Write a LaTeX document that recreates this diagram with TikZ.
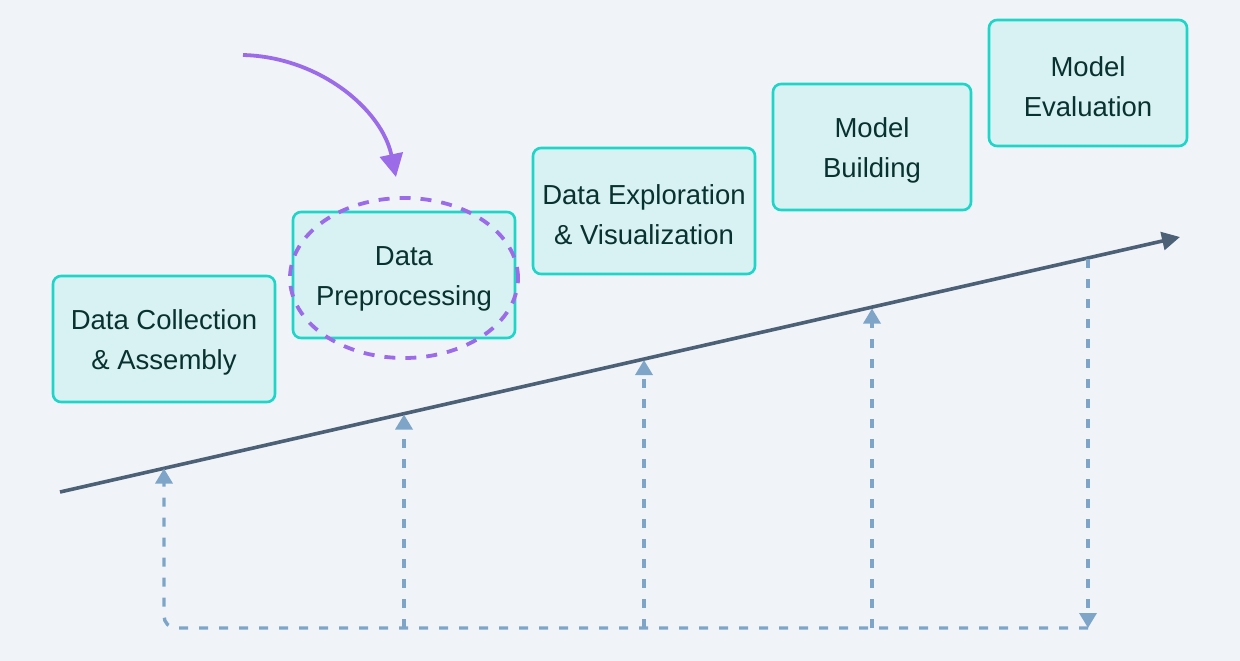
\documentclass[tikz,border=0pt]{standalone}
\usepackage{fontspec}
\setmainfont{Liberation Sans}
\usetikzlibrary{arrows.meta,calc,shapes.geometric}
\definecolor{bg}{HTML}{F0F4F9}
\definecolor{boxfill}{HTML}{D8F1F3}
\definecolor{boxline}{HTML}{1ED6C8}
\definecolor{boxtext}{HTML}{08322F}
\definecolor{trend}{HTML}{4C6175}
\definecolor{dashc}{HTML}{7EA5C8}
\definecolor{purp}{HTML}{9B6BE8}
\tikzset{
  stage/.style={draw=boxline, line width=2.6pt, fill=boxfill, rounded corners=8pt,
    minimum width=222pt, minimum height=126pt, inner sep=0pt},
  stagetext/.style={align=center, text=boxtext, inner sep=0pt,
    font=\fontsize{27.5}{40}\selectfont},
  trendline/.style={draw=trend, line width=3.6pt, -{Triangle[length=18pt,width=18pt]}},
  feed/.style={draw=dashc, line width=3.4pt, dash pattern=on 9pt off 11pt,
    -{Triangle[length=15pt,width=17pt]}},
  focus/.style={draw=purp, line width=3.8pt, dash pattern=on 11pt off 10pt},
  pointer/.style={draw=purp, line width=3.8pt, -{Triangle[length=23pt,width=23pt]}}
}
\begin{document}
\begin{tikzpicture}[x=1pt,y=-1pt]
\fill[bg] (0,0) rectangle (1240,661);
\useasboundingbox (0,0) rectangle (1240,661);

\node[stage] (s1) at (164,339) {};
\node[stage] (s2) at (404,275) {};
\node[stage] (s3) at (644,211) {};
\node[stage, minimum width=198pt] (s4) at (872,147) {};
\node[stage, minimum width=198pt] (s5) at (1088,83) {};
\node[stagetext] (t1) at ([yshift=-3.5pt]s1.center) {Data Collection\\\& Assembly};
\node[stagetext] (t2) at ([yshift=-3.5pt]s2.center) {Data\\Preprocessing};
\node[stagetext] (t3) at ([yshift=-3.5pt]s3.center) {Data Exploration\\\& Visualization};
\node[stagetext] (t4) at ([yshift=-3.5pt]s4.center) {Model\\Building};
\node[stagetext] (t5) at ([yshift=-3.5pt]s5.center) {Model\\Evaluation};

\coordinate (ts) at (60,492);
\coordinate (te) at (1180,237);
\draw[trendline] (ts) -- (te);

\coordinate (c1) at (164,468.5);
\coordinate (c2) at (404,414.5);
\coordinate (c3) at (644,360);
\coordinate (c4) at (872,308.5);
\coordinate (c5) at (1088,259);
\coordinate (b1) at (164,628);
\coordinate (b2) at (404,628);
\coordinate (b3) at (644,628);
\coordinate (b4) at (872,628);
\coordinate (b5) at (1088,628);

\draw[feed] (c5) -- (b5);
\draw[feed, rounded corners=12pt] (b5) -- (b1) -- (c1);
\draw[feed] (b2) -- (c2);
\draw[feed] (b3) -- (c3);
\draw[feed] (b4) -- (c4);

\node[focus, ellipse, minimum width=228pt, minimum height=160pt, inner sep=0pt] (hl) at (404,278) {};

\coordinate (pstart) at (243,55);
\draw[pointer] (pstart) .. controls (320,57) and (382,110) .. (396,177);
\end{tikzpicture}
\end{document}
